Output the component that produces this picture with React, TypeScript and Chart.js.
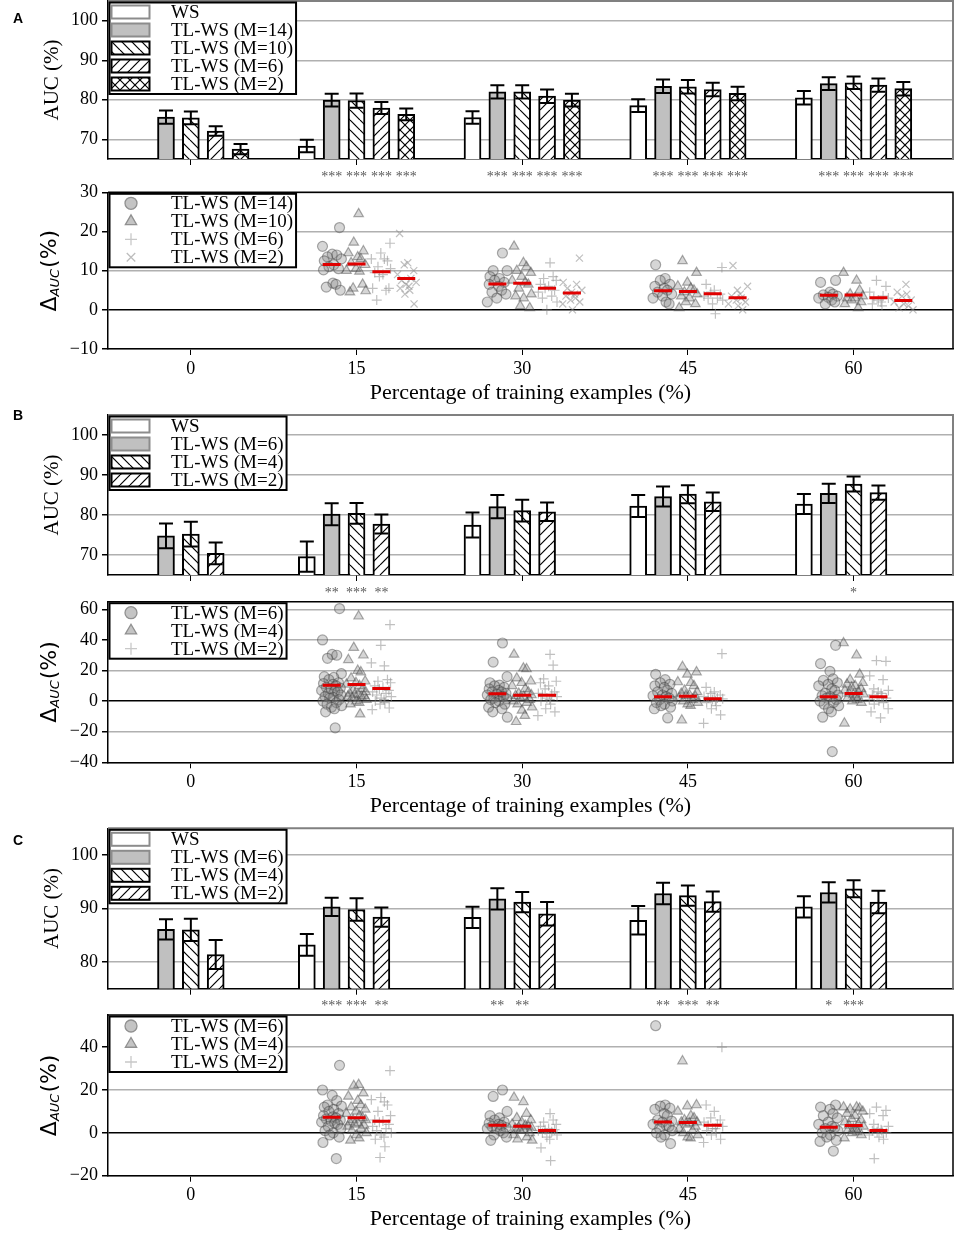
import React, { useEffect, useRef } from "react";
import { Chart, registerables } from "chart.js";
import { drawPoint } from "chart.js/helpers";

Chart.register(...registerables);

const SERIF = '"Liberation Serif", "Times New Roman", serif';
const SANS = '"DejaVu Sans", sans-serif';

// ---------------- data ----------------
const CATEGORIES = [0, 15, 30, 45, 60];
const X_LABEL = "Percentage of training examples (%)";
const BAR_Y_LABEL = "AUC (%)";

// Panel A – bars
const A_BAR_SERIES = ["WS", "TL-WS (M=14)", "TL-WS (M=10)", "TL-WS (M=6)", "TL-WS (M=2)"];
const A_WS = [null, 68.3, 75.5, 78.5, 80.5];
const A_WS_ERR = [null, 1.6, 1.6, 1.6, 1.7];
const A_M14 = [75.6, 79.9, 82.0, 83.4, 84.1];
const A_M14_ERR = [1.7, 1.6, 1.7, 1.7, 1.6];
const A_M10 = [75.4, 79.8, 82.0, 83.3, 84.3];
const A_M10_ERR = [1.6, 1.8, 1.7, 1.7, 1.6];
const A_M6 = [72.1, 77.9, 80.9, 82.6, 83.7];
const A_M6_ERR = [1.2, 1.5, 1.7, 1.7, 1.7];
const A_M2 = [67.5, 76.3, 79.9, 81.6, 82.8];
const A_M2_ERR = [1.3, 1.5, 1.6, 1.7, 1.7];
const A_STARS_WS = ["", "", "", "", ""];
const A_STARS_M14 = ["", "***", "***", "***", "***"];
const A_STARS_M10 = ["", "***", "***", "***", "***"];
const A_STARS_M6 = ["", "***", "***", "***", "***"];
const A_STARS_M2 = ["", "***", "***", "***", "***"];
const A_BAR_Y_TICKS = [70, 80, 90, 100];
const A_BAR_Y_RANGE = [65, 105];

// Panel A – deltas
const A_SC_SERIES = ["TL-WS (M=14)", "TL-WS (M=10)", "TL-WS (M=6)", "TL-WS (M=2)"];
const A_D14 = [
  [],
  [21.0, 16.2, 14.2, 14.0, 13.5, 13.0, 12.5, 11.5, 11.0, 10.5, 10.2, 6.8, 6.5, 5.8, 5.0],
  [14.5, 10.0, 10.0, 8.5, 8.0, 7.5, 7.0, 6.5, 6.0, 5.0, 4.5, 4.0, 3.0, 2.0],
  [11.5, 8.0, 7.5, 6.5, 6.0, 5.5, 5.0, 4.5, 4.0, 3.5, 3.0, 2.0, 1.5],
  [7.5, 7.0, 4.5, 4.0, 3.8, 3.5, 3.2, 3.0, 2.5, 2.0, 1.5],
];
const A_D10 = [
  [],
  [24.5, 17.2, 15.0, 14.5, 13.5, 13.0, 12.0, 11.5, 10.5, 10.0, 9.8, 6.5, 5.5, 4.8, 4.5],
  [16.2, 12.0, 11.0, 10.0, 9.5, 8.5, 7.5, 7.0, 6.5, 5.5, 4.0, 3.5, 3.0, 1.0, 0.5],
  [12.5, 9.5, 7.0, 6.0, 5.5, 5.0, 4.5, 4.0, 3.5, 3.0, 2.0, 1.5, 0.5],
  [9.5, 7.5, 5.0, 4.0, 3.5, 3.0, 3.0, 2.5, 2.0, 1.5, 0.5],
];
const A_D6 = [
  [],
  [17.0, 14.5, 13.0, 13.0, 12.5, 11.0, 10.5, 9.5, 9.0, 8.5, 5.5, 5.5, 5.0, 2.5],
  [12.0, 8.5, 8.0, 7.5, 6.5, 6.0, 5.5, 5.0, 4.5, 3.5, 3.0, 2.0, 0.0],
  [10.8, 6.5, 5.0, 4.5, 4.0, 3.5, 3.0, 3.0, 2.5, 1.5, -1.0],
  [7.5, 6.0, 4.5, 3.5, 3.0, 3.0, 2.5, 2.0, 1.5, 1.0],
];
const A_D2 = [
  [],
  [19.5, 12.0, 11.5, 10.0, 9.0, 8.0, 7.5, 7.0, 6.5, 6.0, 5.5, 5.0, 4.0, 1.5],
  [13.2, 7.0, 6.5, 5.5, 5.0, 4.5, 4.0, 3.5, 3.0, 2.5, 2.0, 1.5, 0.0],
  [11.3, 6.0, 5.0, 4.0, 3.5, 3.0, 2.5, 2.0, 1.5, 1.0, 0.0],
  [6.5, 4.5, 4.0, 3.5, 2.5, 2.0, 1.5, 1.0, 0.5, 0.0],
];
const A_MED14 = [null, 11.6, 6.6, 4.9, 3.7];
const A_MED10 = [null, 11.7, 6.8, 4.7, 3.8];
const A_MED6 = [null, 9.7, 5.5, 4.1, 3.1];
const A_MED2 = [null, 8.0, 4.3, 3.1, 2.4];
const A_SC_Y_TICKS = [-10, 0, 10, 20, 30];
const A_SC_Y_RANGE = [-10, 30];

// Panel B – bars
const B_BAR_SERIES = ["WS", "TL-WS (M=6)", "TL-WS (M=4)", "TL-WS (M=2)"];
const B_WS = [null, 69.6, 77.5, 82.25, 82.75];
const B_WS_ERR = [null, 3.8, 3.1, 2.75, 2.5];
const B_M6 = [74.8, 80.2, 82.1, 84.6, 85.4];
const B_M6_ERR = [3.1, 2.75, 2.9, 2.5, 2.4];
const B_M4 = [75.2, 80.4, 81.1, 85.2, 87.75];
const B_M4_ERR = [3.1, 2.6, 2.7, 2.25, 1.9];
const B_M2 = [70.4, 77.75, 80.8, 83.3, 85.6];
const B_M2_ERR = [2.7, 2.4, 2.3, 2.3, 1.8];
const B_STARS_WS = ["", "", "", "", ""];
const B_STARS_M6 = ["", "**", "", "", ""];
const B_STARS_M4 = ["", "***", "", "", "*"];
const B_STARS_M2 = ["", "**", "", "", ""];
const B_BAR_Y_TICKS = [70, 80, 90, 100];
const B_BAR_Y_RANGE = [65, 105];

// Panel B – deltas
const B_SC_SERIES = ["TL-WS (M=6)", "TL-WS (M=4)", "TL-WS (M=2)"];
const B_D6 = [
  [],
  [60.5, 40, 30.5, 30, 28, 18, 16, 15.5, 14, 12, 11.5, 11, 10, 9, 8.5, 8, 7, 6.5, 6, 5, 4, 3, 2.5, 2, 1, 0, -1, -2, -3, -4, -5, -7, -17.5],
  [38, 25.5, 16, 12, 10.5, 10, 9, 8, 7, 6, 6, 5, 4.5, 4, 3, 3, 2, 1.5, 1, 0, -1, -2, -4, -5, -7, -10.5],
  [17.5, 14, 12, 11, 10, 9, 7, 6, 5, 4, 3.5, 3, 2, 1, 0, -1, -2, -3, -4, -5, -11],
  [36.5, 24.5, 19.5, 14.5, 13.5, 12, 11, 10, 8, 7, 5, 4, 3.5, 3, 2, 1, 0, -1, -2, -3, -5, -7, -10.5, -33],
];
const B_D4 = [
  [],
  [55.5, 35, 30, 27, 20, 19, 15, 13, 12, 11, 10, 8, 7, 6, 5, 4.5, 4, 3.5, 3, 3, 2, 1, 0, -1, -2, -8.5],
  [30.5, 21.5, 21, 15, 13, 12, 10, 8, 6, 5, 4, 3.5, 3, 2, 1, 0, -1, -2, -4, -6, -9.5, -13.5],
  [22.5, 19, 17.5, 12.5, 12, 10, 7, 6, 5, 4, 3.5, 3, 2, 1, 0, -1, -2, -3, -12.5],
  [38, 30, 17.5, 14, 12, 11, 10, 9, 8, 7, 6, 5, 4.5, 4, 3, 2, 1, 0, -1, -14.5],
];
const B_D2 = [
  [],
  [50, 36.5, 25, 23, 14, 13, 12, 10, 9, 8, 7, 6, 5, 4, 3, 2, 1, 0, -1, -2, -4.5, -5.5],
  [30.5, 23.5, 14.5, 13, 12, 10, 8, 6, 5, 4.5, 4, 3, 2, 1, 0, -2, -5, -7, -9.5],
  [31, 9, 6, 5, 4, 3, 2, 2, 1.5, 1, 0, -1, -3, -5, -9, -14.5],
  [26.5, 26, 16.5, 14, 8, 7, 6, 5, 4, 3, 2.5, 2, 1, 0, -1, -2, -5, -7, -11],
];
const B_MED6 = [null, 10.4, 4.8, 2.8, 2.8];
const B_MED4 = [null, 10.8, 3.9, 3.2, 5.0];
const B_MED2 = [null, 8.2, 3.9, 1.5, 2.8];
const B_SC_Y_TICKS = [-40, -30, -20, -10, 0, 10, 20, 30, 40, 50, 60];
const B_SC_Y_RANGE = [-40, 65];

// Panel C – bars
const C_BAR_SERIES = ["WS", "TL-WS (M=6)", "TL-WS (M=4)", "TL-WS (M=2)"];
const C_WS = [null, 83.2, 88.35, 87.8, 90.3];
const C_WS_ERR = [null, 2.05, 2.0, 2.65, 2.0];
const C_M6 = [86.1, 90.3, 91.8, 92.8, 93.0];
const C_M6_ERR = [1.9, 1.7, 2.0, 2.0, 1.9];
const C_M4 = [86.0, 89.8, 91.2, 92.4, 93.7];
const C_M4_ERR = [2.1, 2.1, 1.9, 1.9, 1.6];
const C_M2 = [81.4, 88.4, 89.0, 91.3, 91.2];
const C_M2_ERR = [2.7, 1.8, 2.2, 1.9, 2.1];
const C_STARS_WS = ["", "", "", "", ""];
const C_STARS_M6 = ["", "***", "**", "**", "*"];
const C_STARS_M4 = ["", "***", "**", "***", "***"];
const C_STARS_M2 = ["", "**", "", "**", ""];
const C_BAR_Y_TICKS = [80, 90, 100];
const C_BAR_Y_RANGE = [75, 105];

// Panel C – deltas
const C_SC_SERIES = ["TL-WS (M=6)", "TL-WS (M=4)", "TL-WS (M=2)"];
const C_D6 = [
  [],
  [31.5, 20, 17.5, 15, 13, 12.5, 12, 11, 10, 9, 8, 7.5, 7, 6.5, 6, 5.5, 5, 4.5, 4, 3, 2, 1, 0, -1, -2, -4.5, -12],
  [20, 17, 10, 8, 7, 6, 5, 4.5, 4, 3.5, 3, 2.5, 2, 2, 1, 0, -1, -2, -3.5],
  [50, 13, 12.5, 11.5, 11, 9, 8, 6, 5.5, 5, 4, 3.5, 3, 2, 1, 0, -1, -2, -5],
  [13, 12, 11, 9, 8, 7, 5, 4, 3, 2.5, 2, 1, 0, -1, -2, -3.5, -4, -8.5],
];
const C_D4 = [
  [],
  [22.5, 22, 18.5, 17, 15, 13, 12, 11, 10, 9, 8, 7, 6, 6, 5, 4.5, 4, 3.5, 3, 2, 1, 0, -1, -2.5, -3.5],
  [16.5, 14.5, 9, 7, 6, 5, 4, 3.5, 3, 2.5, 2.5, 2, 1.5, 1, 0, -1, -2, -3, -3.5],
  [33.5, 13, 12.5, 10, 8, 7, 6, 5, 5, 4.5, 4, 3, 2, 1, 0, -1, -2, -2.5],
  [12, 12, 11.5, 11, 10, 9, 8, 6.5, 6, 5, 4, 3.5, 3, 2, 1.5, 1, 0.5, 0, -1, -2.5],
];
const C_D2 = [
  [],
  [29, 16.5, 15.5, 14.5, 13, 10, 8, 6, 5.5, 5, 4, 3, 2, 1, 0, -1, -2, -3, -6.5, -11.5],
  [9, 6, 5, 4, 3, 2, 1.5, 1.5, 1, 0.5, 0, -1, -2, -3, -7, -13],
  [40, 13, 10, 7, 6, 5, 4, 3.5, 3, 2, 2, 1, 0, -1, -3, -4.5],
  [12, 10.5, 9, 8, 4, 3, 2, 1.5, 1, 1, 0.5, 0, -1, -2, -3, -12],
];
const C_MED6 = [null, 7.3, 3.6, 5.1, 2.6];
const C_MED4 = [null, 7.0, 3.1, 4.8, 3.4];
const C_MED2 = [null, 5.4, 1.1, 3.6, 1.1];
const C_SC_Y_TICKS = [-20, -10, 0, 10, 20, 30, 40, 50];
const C_SC_Y_RANGE = [-20, 55];

const PANEL_LETTERS = ["A", "B", "C"];

// ---------------- styling / layout ----------------
const X_RANGE = [-7.5, 69];
const BAR_STEP = 2.25; // spacing between bars within a group (x units)
// fixed horizontal spread pattern for the strip plot (x units)
const JITTER = [
  -0.55, 0.32, -0.12, 0.71, -0.83, 0.05, 0.46, -0.38, 0.88, -0.67, 0.19, -0.25, 0.62, -0.74, 0.11, 0.39, -0.49,
  0.78, -0.05, -0.91, 0.27, 0.55, -0.31, 0.83, -0.6, 0.14, -0.18, 0.68, -0.79, 0.42, -0.42, 0.9, -0.02, 0.24,
];
const CANVAS_W = 957;
const Y_AXIS_W = 108;
const RIGHT_PAD = 4;
const GEOMS = [
  { top: 0, height: 188, areaTop: 1, areaBottom: 159 },
  { top: 178, height: 227, areaTop: 192.3, areaBottom: 349 },
  { top: 405, height: 192, areaTop: 415, areaBottom: 575 },
  { top: 588, height: 230, areaTop: 601.7, areaBottom: 762.3 },
  { top: 818, height: 192, areaTop: 828.3, areaBottom: 988.7 },
  { top: 1003, height: 231, areaTop: 1015, areaBottom: 1175.7 },
];
const LETTER_TOPS = [11, 408, 833];

type Fill = "white" | "gray" | "back" | "fwd" | "cross";
const A_FILLS: Fill[] = ["white", "gray", "back", "fwd", "cross"];
const BC_FILLS: Fill[] = ["white", "gray", "back", "fwd"];
type Marker = "circle" | "triangle" | "plus" | "x";
const A_MARKERS: Marker[] = ["circle", "triangle", "plus", "x"];
const BC_MARKERS: Marker[] = ["circle", "triangle", "plus"];

const MARKER_STYLE: Record<Marker, any> = {
  circle: { pointStyle: "circle", radius: 5, bg: "rgba(128,128,128,0.32)", border: "rgba(60,60,60,0.42)", bw: 1.2 },
  triangle: { pointStyle: "triangle", radius: 5.5, bg: "rgba(128,128,128,0.32)", border: "rgba(60,60,60,0.42)", bw: 1.2 },
  plus: { pointStyle: "cross", radius: 5, bg: "rgba(0,0,0,0)", border: "rgba(140,140,140,0.55)", bw: 1.2 },
  x: { pointStyle: "crossRot", radius: 5, bg: "rgba(0,0,0,0)", border: "rgba(140,140,140,0.55)", bw: 1.2 },
};
const LEGEND_MARKER: Record<Marker, any> = {
  circle: { pointStyle: "circle", radius: 6, bg: "#c4c4c4", border: "#909090", bw: 1.3 },
  triangle: { pointStyle: "triangle", radius: 6.5, bg: "#c4c4c4", border: "#909090", bw: 1.3 },
  plus: { pointStyle: "cross", radius: 6, bg: "#c8c8c8", border: "#c8c8c8", bw: 1.3 },
  x: { pointStyle: "crossRot", radius: 6, bg: "#bdbdbd", border: "#bdbdbd", bw: 1.3 },
};

function makeFill(kind: Fill): any {
  if (kind === "white") return "#ffffff";
  if (kind === "gray") return "#c0c0c0";
  const s = 10;
  const c = document.createElement("canvas");
  c.width = s;
  c.height = s;
  const g = c.getContext("2d")!;
  g.fillStyle = "#fff";
  g.fillRect(0, 0, s, s);
  g.strokeStyle = "#000";
  g.lineWidth = 1.2;
  const back = () => {
    for (const k of [-1, 0, 1]) {
      g.beginPath();
      g.moveTo(k * s, 0);
      g.lineTo(k * s + s, s);
      g.stroke();
    }
  };
  const fwd = () => {
    for (const k of [-1, 0, 1]) {
      g.beginPath();
      g.moveTo(k * s, s);
      g.lineTo(k * s + s, 0);
      g.stroke();
    }
  };
  if (kind === "back") back();
  else if (kind === "fwd") fwd();
  else {
    back();
    fwd();
  }
  return g.createPattern(c, "repeat");
}

const minus = (v: any) => String(v).replace("-", "\u2212");

const noPadding = (s: any) => {
  s.paddingTop = 0;
  s.paddingBottom = 0;
  s.paddingLeft = 0;
  s.paddingRight = 0;
};

function yAxis(range: number[], ticks: number[]) {
  return {
    type: "linear",
    min: range[0],
    max: range[1],
    beginAtZero: false,
    afterBuildTicks: (s: any) => {
      s.ticks = ticks.map((v) => ({ value: v }));
    },
    afterFit: (s: any) => {
      s.width = Y_AXIS_W;
      noPadding(s);
    },
    grid: {
      color: (ctx: any) => (ctx.tick && ctx.tick.value === 0 ? "#000" : "#b0b0b0"),
      lineWidth: 1.5,
      tickColor: "#000",
      tickLength: 6,
      drawTicks: true,
    },
    border: { color: "#000", width: 1.5 },
    ticks: { color: "#000", font: { family: SERIF, size: 18 }, padding: 4, callback: (v: any) => minus(v) },
  };
}

function xAxis(showLabels: boolean, height: number) {
  return {
    type: "linear",
    min: X_RANGE[0],
    max: X_RANGE[1],
    offset: false,
    afterBuildTicks: (s: any) => {
      s.ticks = CATEGORIES.map((v) => ({ value: v }));
    },
    afterFit: (s: any) => {
      s.height = height;
      noPadding(s);
    },
    grid: { drawOnChartArea: false, drawTicks: true, tickLength: 6, tickColor: "#000", offset: false },
    border: { color: "#000", width: 1.5 },
    ticks: {
      display: showLabels,
      color: "#000",
      font: { family: SERIF, size: 18 },
      padding: 3,
      maxRotation: 0,
      autoSkip: false,
    },
  };
}

function framePlugin(color: string, width: number) {
  return {
    id: "frame",
    afterDatasetsDraw(chart: any) {
      const { ctx, chartArea: a } = chart;
      ctx.save();
      ctx.strokeStyle = color;
      ctx.lineWidth = width;
      ctx.beginPath();
      ctx.moveTo(a.left, a.top);
      ctx.lineTo(a.right, a.top);
      ctx.lineTo(a.right, a.bottom);
      ctx.stroke();
      ctx.restore();
    },
  };
}

function drawLegendBox(ctx: any, a: any, labels: string[], drawKey: (i: number, boxLeft: number, cy: number) => void) {
  ctx.save();
  ctx.font = `19px ${SERIF}`;
  const textW = Math.max(...labels.map((l) => ctx.measureText(l).width));
  const left = a.left + 1.5;
  const top = a.top + 1.5;
  const row = 18;
  const w = 61.5 + textW + 3;
  const h = labels.length * row + 1.5;
  ctx.fillStyle = "#fff";
  ctx.fillRect(left, top, w, h);
  ctx.strokeStyle = "#000";
  ctx.lineWidth = 2;
  ctx.strokeRect(left, top, w, h);
  labels.forEach((l, i) => {
    const cy = top + 9.5 + i * row;
    drawKey(i, left, cy);
    ctx.fillStyle = "#000";
    ctx.font = `19px ${SERIF}`;
    ctx.textAlign = "left";
    ctx.textBaseline = "middle";
    ctx.fillText(l, left + 61.5, cy + 1);
  });
  ctx.restore();
}

const baseOptions = (g: any) => ({
  animation: false,
  responsive: true,
  maintainAspectRatio: false,
  events: [],
  layout: { autoPadding: false, padding: { top: g.areaTop - g.top, left: 0, right: RIGHT_PAD, bottom: 0 } },
  plugins: { legend: { display: false }, tooltip: { enabled: false } },
});

function makeBarChart(canvas: HTMLCanvasElement, p: any, g: any) {
  const datasets = p.series.map((label: string, s: number) => {
    const data: any[] = [];
    const errs: number[] = [];
    const stars: string[] = [];
    CATEGORIES.forEach((c, k) => {
      const v = p.means[s][k];
      if (v == null) return;
      data.push({ x: c + (s - 2) * BAR_STEP, y: v });
      errs.push(p.errs[s][k]);
      stars.push(p.stars[s][k]);
    });
    return {
      type: "bar",
      label,
      data,
      errs,
      stars,
      fillKind: p.fills[s],
      backgroundColor: makeFill(p.fills[s]),
      borderColor: "#000",
      borderWidth: 2,
      barThickness: 17,
      grouped: false,
      base: p.yRange[0],
    };
  });

  const plugin = {
    id: "barExtras",
    afterDatasetsDraw(chart: any) {
      const { ctx, chartArea: a } = chart;
      const ys = chart.scales.y;
      ctx.save();
      chart.data.datasets.forEach((ds: any, i: number) => {
        const meta = chart.getDatasetMeta(i);
        meta.data.forEach((el: any, j: number) => {
          const v = ds.data[j].y;
          const e = ds.errs[j];
          const yt = ys.getPixelForValue(v + e);
          const yb = ys.getPixelForValue(v - e);
          ctx.strokeStyle = "#000";
          ctx.lineWidth = 2;
          ctx.beginPath();
          ctx.moveTo(el.x, yt);
          ctx.lineTo(el.x, yb);
          ctx.moveTo(el.x - 7, yt);
          ctx.lineTo(el.x + 7, yt);
          ctx.moveTo(el.x - 7, yb);
          ctx.lineTo(el.x + 7, yb);
          ctx.stroke();
          const st = ds.stars[j];
          if (st) {
            ctx.fillStyle = "#5a5a5a";
            ctx.font = `14px ${SERIF}`;
            ctx.textAlign = "center";
            ctx.textBaseline = "middle";
            ctx.fillText(st, el.x, a.bottom + 18);
          }
        });
      });
      ctx.restore();
    },
    afterDraw(chart: any) {
      const { ctx, chartArea: a } = chart;
      drawLegendBox(ctx, a, chart.data.datasets.map((d: any) => d.label), (i, left, cy) => {
        const ds = chart.data.datasets[i];
        const kind: Fill = ds.fillKind;
        ctx.save();
        ctx.fillStyle = ds.backgroundColor;
        ctx.fillRect(left + 2, cy - 6.5, 38, 13);
        ctx.strokeStyle = kind === "white" || kind === "gray" ? "#8c8c8c" : "#000";
        ctx.lineWidth = 2;
        ctx.strokeRect(left + 2, cy - 6.5, 38, 13);
        ctx.restore();
      });
      // y title
      ctx.save();
      ctx.translate(52, (a.top + a.bottom) / 2);
      ctx.rotate(-Math.PI / 2);
      ctx.fillStyle = "#000";
      ctx.font = `21px ${SERIF}`;
      ctx.textAlign = "center";
      ctx.textBaseline = "middle";
      ctx.fillText(BAR_Y_LABEL, 0, 0);
      ctx.restore();
    },
  };

  return new Chart(canvas, {
    type: "bar",
    data: { datasets },
    options: {
      ...baseOptions(g),
      scales: {
        x: xAxis(false, g.top + g.height - g.areaBottom),
        y: yAxis(p.yRange, p.yTicks),
      },
    } as any,
    plugins: [framePlugin("#808080", 2), plugin],
  });
}

function makeScatterChart(canvas: HTMLCanvasElement, p: any, g: any) {
  const medians = p.series.map((label: string, j: number) => ({
    label: label + " median",
    data: CATEGORIES.map((c, k) => (p.medians[j][k] == null ? null : { x: c + (j - 1) * BAR_STEP, y: p.medians[j][k] })).filter(
      (d) => d
    ),
    pointStyle: "line",
    pointRadius: 9,
    borderWidth: 3,
    borderColor: "#e00000",
    backgroundColor: "#e00000",
    order: 0,
    isMedian: true,
  }));
  const points = p.series.map((label: string, j: number) => {
    const m = MARKER_STYLE[p.markers[j] as Marker];
    const data: any[] = [];
    CATEGORIES.forEach((c, k) => {
      p.values[j][k].forEach((v: number, i: number) => {
        const jit = JITTER[(i + j * 7 + k * 3) % JITTER.length];
        data.push({ x: c + (j - 1) * BAR_STEP + jit, y: v });
      });
    });
    return {
      label,
      data,
      marker: p.markers[j],
      pointStyle: m.pointStyle,
      pointRadius: m.radius,
      pointBackgroundColor: m.bg,
      pointBorderColor: m.border,
      pointBorderWidth: m.bw,
      order: 1,
    };
  });

  const plugin = {
    id: "scExtras",
    afterDraw(chart: any) {
      const { ctx, chartArea: a } = chart;
      const pts = chart.data.datasets.filter((d: any) => !d.isMedian);
      drawLegendBox(ctx, a, pts.map((d: any) => d.label), (i, left, cy) => {
        const m = LEGEND_MARKER[pts[i].marker as Marker];
        ctx.save();
        ctx.fillStyle = m.bg;
        ctx.strokeStyle = m.border;
        ctx.lineWidth = m.bw;
        drawPoint(ctx, { pointStyle: m.pointStyle, radius: m.radius, rotation: 0, borderWidth: m.bw } as any, left + 21.5, cy);
        ctx.restore();
      });
      // y title: Δ_AUC(%)
      ctx.save();
      ctx.translate(50, (a.top + a.bottom) / 2);
      ctx.rotate(-Math.PI / 2);
      ctx.fillStyle = "#000";
      ctx.textBaseline = "middle";
      ctx.textAlign = "left";
      const big = `22px ${SANS}`;
      const small = `italic 13px ${SANS}`;
      ctx.font = big;
      const w1 = ctx.measureText("\u0394").width;
      const w3 = ctx.measureText("(%)").width;
      ctx.font = small;
      const w2 = ctx.measureText("AUC").width;
      let x = -(w1 + w2 + w3 + 1) / 2;
      ctx.font = big;
      ctx.fillText("\u0394", x, 0);
      x += w1;
      ctx.font = small;
      ctx.fillText("AUC", x, 6);
      x += w2 + 1;
      ctx.font = big;
      ctx.fillText("(%)", x, 0);
      ctx.restore();
      // x title
      ctx.save();
      ctx.fillStyle = "#000";
      ctx.font = `22px ${SERIF}`;
      ctx.textAlign = "center";
      ctx.textBaseline = "middle";
      ctx.fillText(X_LABEL, (a.left + a.right) / 2, a.bottom + 44);
      ctx.restore();
    },
  };

  return new Chart(canvas, {
    type: "scatter",
    data: { datasets: [...medians, ...points] },
    options: {
      ...baseOptions(g),
      scales: {
        x: xAxis(true, g.top + g.height - g.areaBottom),
        y: yAxis(p.yRange, p.yTicks),
      },
    } as any,
    plugins: [framePlugin("#000", 1.5), plugin],
  });
}

const PANELS = [
  {
    bar: {
      series: A_BAR_SERIES,
      fills: A_FILLS,
      means: [A_WS, A_M14, A_M10, A_M6, A_M2],
      errs: [A_WS_ERR, A_M14_ERR, A_M10_ERR, A_M6_ERR, A_M2_ERR],
      stars: [A_STARS_WS, A_STARS_M14, A_STARS_M10, A_STARS_M6, A_STARS_M2],
      yRange: A_BAR_Y_RANGE,
      yTicks: A_BAR_Y_TICKS,
    },
    scatter: {
      series: A_SC_SERIES,
      markers: A_MARKERS,
      values: [A_D14, A_D10, A_D6, A_D2],
      medians: [A_MED14, A_MED10, A_MED6, A_MED2],
      yRange: A_SC_Y_RANGE,
      yTicks: A_SC_Y_TICKS,
    },
  },
  {
    bar: {
      series: B_BAR_SERIES,
      fills: BC_FILLS,
      means: [B_WS, B_M6, B_M4, B_M2],
      errs: [B_WS_ERR, B_M6_ERR, B_M4_ERR, B_M2_ERR],
      stars: [B_STARS_WS, B_STARS_M6, B_STARS_M4, B_STARS_M2],
      yRange: B_BAR_Y_RANGE,
      yTicks: B_BAR_Y_TICKS,
    },
    scatter: {
      series: B_SC_SERIES,
      markers: BC_MARKERS,
      values: [B_D6, B_D4, B_D2],
      medians: [B_MED6, B_MED4, B_MED2],
      yRange: B_SC_Y_RANGE,
      yTicks: B_SC_Y_TICKS,
    },
  },
  {
    bar: {
      series: C_BAR_SERIES,
      fills: BC_FILLS,
      means: [C_WS, C_M6, C_M4, C_M2],
      errs: [C_WS_ERR, C_M6_ERR, C_M4_ERR, C_M2_ERR],
      stars: [C_STARS_WS, C_STARS_M6, C_STARS_M4, C_STARS_M2],
      yRange: C_BAR_Y_RANGE,
      yTicks: C_BAR_Y_TICKS,
    },
    scatter: {
      series: C_SC_SERIES,
      markers: BC_MARKERS,
      values: [C_D6, C_D4, C_D2],
      medians: [C_MED6, C_MED4, C_MED2],
      yRange: C_SC_Y_RANGE,
      yTicks: C_SC_Y_TICKS,
    },
  },
];

export default function App() {
  const canvases = useRef<(HTMLCanvasElement | null)[]>([]);
  useEffect(() => {
    const charts: Chart[] = [];
    PANELS.forEach((p, i) => {
      const b = canvases.current[i * 2];
      const s = canvases.current[i * 2 + 1];
      if (b) charts.push(makeBarChart(b, p.bar, GEOMS[i * 2]));
      if (s) charts.push(makeScatterChart(s, p.scatter, GEOMS[i * 2 + 1]));
    });
    return () => charts.forEach((c) => c.destroy());
  }, []);

  return (
    <div style={{ position: "absolute", left: 0, top: 0, width: CANVAS_W, height: 1234, background: "#fff" }}>
      {GEOMS.map((g, i) => (
        <div key={i} style={{ position: "absolute", left: 0, top: g.top, width: CANVAS_W, height: g.height }}>
          <canvas
            ref={(el) => {
              canvases.current[i] = el;
            }}
          />
        </div>
      ))}
      {PANEL_LETTERS.map((l, i) => (
        <div
          key={l}
          style={{
            position: "absolute",
            left: 13,
            top: LETTER_TOPS[i],
            font: `bold 14px "Liberation Sans", Arial, sans-serif`,
            lineHeight: "14px",
          }}
        >
          {l}
        </div>
      ))}
    </div>
  );
}
